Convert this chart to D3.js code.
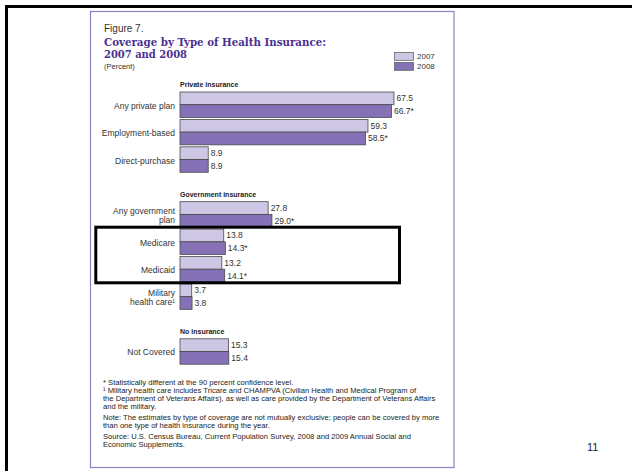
<!DOCTYPE html>
<html>
<head>
<meta charset="utf-8">
<script src="https://cdn.jsdelivr.net/npm/d3@7"></script>
<style>
  body { margin: 0; background: #fff; }
  svg { display: block; }
</style>
</head>
<body>
<svg id="chart"></svg>
<script>
// data
const categories = ["Any private plan", "Employment-based", "Direct-purchase",
  "Any government plan", "Medicare", "Medicaid", "Military health care¹", "Not Covered"];
const labelLines = [["Any private plan"], ["Employment-based"], ["Direct-purchase"],
  ["Any government", "plan"], ["Medicare"], ["Medicaid"], ["Military", "health care¹"], ["Not Covered"]];
const values2007 = [67.5, 59.3, 8.9, 27.8, 13.8, 13.2, 3.7, 15.3];
const values2008 = [66.7, 58.5, 8.9, 29.0, 14.3, 14.1, 3.8, 15.4];
const sig2008 = [true, true, false, true, true, true, false, false];
const years = ["2007", "2008"];
const groups = ["Private insurance", "Government insurance", "No insurance"];
// row slot for each category (blank slot between groups)
const slots = [0, 1, 2, 4, 5, 6, 7, 9];
const groupSlots = [0, 4, 9];
const footnotes = [
  ["* Statistically different at the 90 percent confidence level.",
   "¹ Military health care includes Tricare and CHAMPVA (Civilian Health and Medical Program of",
   "the Department of Veterans Affairs), as well as care provided by the Department of Veterans Affairs",
   "and the military."],
  ["Note: The estimates by type of coverage are not mutually exclusive; people can be covered by more",
   "than one type of health insurance during the year."],
  ["Source: U.S. Census Bureau, Current Population Survey, 2008 and 2009 Annual Social and",
   "Economic Supplements."]
];

const W = 632, H = 471;
const svg = d3.select("#chart").attr("width", W).attr("height", H);
const sans = "'Liberation Sans', Arial, sans-serif";
const colors = { "2007": "#cdc6e4", "2008": "#8571b6" };

// slide frame
svg.append("line").attr("x1", 5).attr("x2", W).attr("y1", 6.5).attr("y2", 6.5)
  .attr("stroke", "#000").attr("stroke-width", 3);
svg.append("line").attr("x1", 6.5).attr("x2", 6.5).attr("y1", 5).attr("y2", H)
  .attr("stroke", "#000").attr("stroke-width", 3);

// figure panel
svg.append("rect").attr("x", 90.5).attr("y", 11.5).attr("width", 363.5).attr("height", 456)
  .attr("fill", "none").attr("stroke", "#8d80c4").attr("stroke-width", 1.2);

// titles
svg.append("text").attr("x", 104).attr("y", 31.5).text("Figure 7.")
  .attr("font-family", sans).attr("font-size", 10).attr("fill", "#333");
svg.append("text").attr("x", 104).attr("y", 45.5).text("Coverage by Type of Health Insurance:")
  .attr("font-family", "'DejaVu Serif', serif").attr("font-weight", "bold")
  .attr("font-size", 11).attr("fill", "#4b2f91")
  .attr("textLength", 222).attr("lengthAdjust", "spacingAndGlyphs");
svg.append("text").attr("x", 104).attr("y", 57.5).text("2007 and 2008")
  .attr("font-family", "'DejaVu Serif', serif").attr("font-weight", "bold")
  .attr("font-size", 11).attr("fill", "#4b2f91")
  .attr("textLength", 83).attr("lengthAdjust", "spacingAndGlyphs");
svg.append("text").attr("x", 104).attr("y", 68.5).text("(Percent)")
  .attr("font-family", sans).attr("font-size", 7.5).attr("fill", "#333");

// legend
const legend = svg.append("g").selectAll("g").data(years).join("g")
  .attr("transform", (d, i) => `translate(394.5,${52.5 + i * 10})`);
legend.append("rect").attr("width", 19).attr("height", 7.8)
  .attr("fill", d => colors[d]).attr("stroke", "#555").attr("stroke-width", 0.7);
legend.append("text").attr("x", 22.5).attr("y", 4).attr("dy", "0.35em").text(d => d)
  .attr("font-family", sans).attr("font-size", 8).attr("fill", "#333");

// scales
const x = d3.scaleLinear().domain([0, 70]).range([180, 180 + 70 * 3.17]);
const y = d3.scaleBand().domain(d3.range(10)).range([92, 364.2]).paddingInner(0.073);
const yYear = d3.scaleBand().domain(years).range([0, y.bandwidth()]);

// group headers
svg.append("g").selectAll("text").data(groups).join("text")
  .attr("x", 180).attr("y", (d, i) => y(groupSlots[i]) - 5)
  .text(d => d)
  .attr("font-family", sans).attr("font-weight", "bold").attr("font-size", 7)
  .attr("fill", "#222");

const rows = categories.map((c, i) => ({
  cat: c, lines: labelLines[i], slot: slots[i],
  vals: [{ year: "2007", v: values2007[i], sig: false },
         { year: "2008", v: values2008[i], sig: sig2008[i] }]
}));

const row = svg.append("g").selectAll("g").data(rows).join("g")
  .attr("transform", d => `translate(0,${y(d.slot)})`);

// category labels
row.append("text")
  .attr("x", 175).attr("text-anchor", "end")
  .attr("font-family", sans).attr("font-size", 8.5).attr("fill", "#333")
  .selectAll("tspan").data(d => d.lines.map((t, k) => ({ t, k, n: d.lines.length })))
  .join("tspan")
  .attr("x", 175)
  .attr("y", d => y.bandwidth() / 2 + 1 + (d.k - (d.n - 1) / 2) * 8.8)
  .attr("dy", "0.35em")
  .text(d => d.t);

// bars
row.selectAll("rect").data(d => d.vals).join("rect")
  .attr("x", x(0))
  .attr("y", d => yYear(d.year))
  .attr("width", d => x(d.v) - x(0))
  .attr("height", yYear.bandwidth())
  .attr("fill", d => colors[d.year])
  .attr("stroke", "#4a4a4a").attr("stroke-width", 0.8);

// value labels
row.selectAll("text.val").data(d => d.vals).join("text")
  .attr("class", "val")
  .attr("x", d => x(d.v) + 2.5)
  .attr("y", d => yYear(d.year) + yYear.bandwidth() / 2)
  .attr("dy", "0.35em")
  .text(d => d.v.toFixed(1) + (d.sig ? "*" : ""))
  .attr("font-family", sans).attr("font-size", 8.5).attr("fill", "#333");

// footnotes
let fy = 385;
const fn = svg.append("g").attr("font-family", sans).attr("font-size", 7.6).attr("fill", "#222");
footnotes.forEach(para => {
  para.forEach(line => {
    fn.append("text").attr("x", 103).attr("y", fy).text(line);
    fy += 8;
  });
  fy += 3;
});

// highlight box
svg.append("rect").attr("x", 95.8).attr("y", 227.2).attr("width", 303.7).attr("height", 55.6)
  .attr("fill", "none").attr("stroke", "#000").attr("stroke-width", 3);

// page number
svg.append("text").attr("x", 587).attr("y", 451).text("11")
  .attr("font-family", sans).attr("font-size", 11).attr("fill", "#222");
</script>
</body>
</html>
